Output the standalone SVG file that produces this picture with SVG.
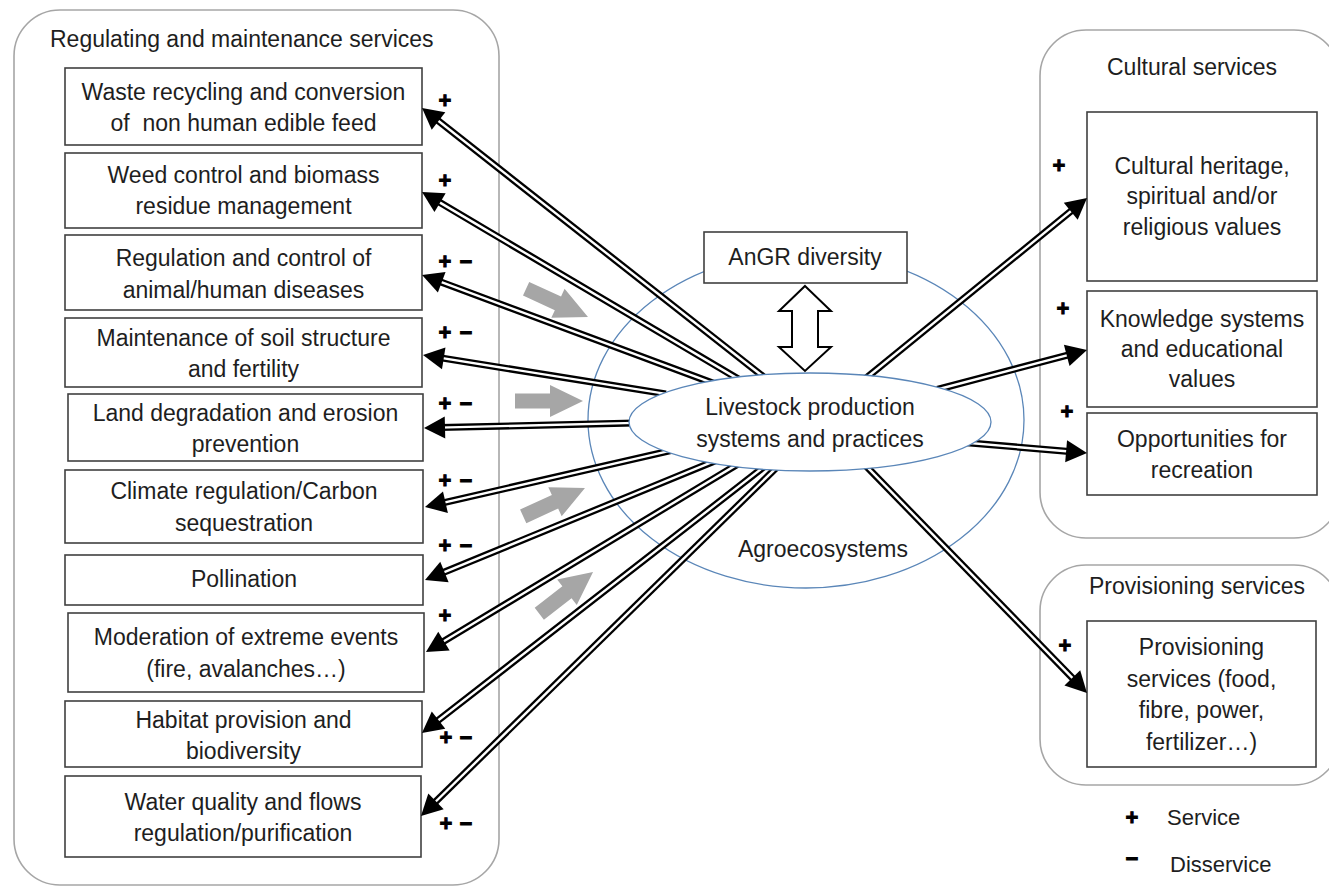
<svg xmlns="http://www.w3.org/2000/svg" width="1329" height="888" viewBox="0 0 1329 888">
<style>
.cont{fill:none;stroke:#a6a6a6;stroke-width:1.6}
.box{fill:#fff;stroke:#404040;stroke-width:1.6}
.t{font-family:"Liberation Sans",Arial,sans-serif;font-size:23px;fill:#1e1e1e;text-anchor:middle}
.tl{font-family:"Liberation Sans",Arial,sans-serif;font-size:23px;fill:#1e1e1e}
.pm{font-family:"Liberation Sans",Arial,sans-serif;font-size:22px;font-weight:bold;fill:#000;stroke:#000;stroke-width:0.9;text-anchor:middle}
.ol{fill:none;stroke:#000;stroke-width:7}
.il{fill:none;stroke:#fff;stroke-width:2.4;marker-end:url(#ah)}
.ell{stroke:#5a86b8;stroke-width:1.3}
.grey{fill:#a6a6a6}
</style>
<defs>
<marker id="ah" markerUnits="userSpaceOnUse" markerWidth="40" markerHeight="40" viewBox="-20 -20 40 40" refX="0" refY="0" orient="auto" overflow="visible">
<path d="M-6,-11 L15,0 L-6,11 z" fill="#000"/>
</marker>
<polygon id="garrow" points="0,-7.5 35,-7.5 35,-16 68,0 35,16 35,7.5 0,7.5"/>
</defs>
<rect width="1329" height="888" fill="#fff"/>

<g id="regulating-services">
<rect class="cont" x="14" y="10" width="485" height="875" rx="46" ry="46"/>
<text class="tl" x="50" y="47">Regulating and maintenance services</text>
</g>
<g id="cultural-services">
<rect class="cont" x="1040" y="30" width="300" height="508" rx="46" ry="46"/>
<text class="t" x="1192" y="75">Cultural services</text>
</g>
<g id="provisioning-group">
<rect class="cont" x="1040" y="565" width="300" height="220" rx="46" ry="46"/>
<text class="t" x="1197" y="594">Provisioning services</text>
</g>

<g id="agroecosystems">
<ellipse class="ell" cx="806" cy="420" rx="218" ry="168" fill="none"/>
<text class="t" x="823" y="557">Agroecosystems</text>
</g>

<g id="grey-arrows" class="grey">
<use href="#garrow" transform="translate(526.1,288.8) rotate(24.5)"/>
<use href="#garrow" transform="translate(515,401)"/>
<use href="#garrow" transform="translate(523.2,516.4) rotate(-24.7)"/>
<use href="#garrow" transform="translate(539.3,613.7) rotate(-37.8)"/>
</g>

<g id="n1"><rect class="box" x="65" y="68" width="357" height="77"/>
<text class="t" x="243.5" y="100">Waste recycling and conversion</text>
<text class="t" x="243.5" y="131" xml:space="preserve">of  non human edible feed</text></g>
<g id="n2"><rect class="box" x="65" y="153" width="357" height="75"/>
<text class="t" x="243.5" y="183">Weed control and biomass</text>
<text class="t" x="243.5" y="214">residue management</text></g>
<g id="n3"><rect class="box" x="65" y="235" width="357" height="75"/>
<text class="t" x="243.5" y="266">Regulation and control of</text>
<text class="t" x="243.5" y="298">animal/human diseases</text></g>
<g id="n4"><rect class="box" x="65" y="318" width="357" height="69"/>
<text class="t" x="243.5" y="346">Maintenance of soil structure</text>
<text class="t" x="243.5" y="377">and fertility</text></g>
<g id="n5"><rect class="box" x="68" y="394" width="355" height="67"/>
<text class="t" x="245.5" y="421">Land degradation and erosion</text>
<text class="t" x="245.5" y="452">prevention</text></g>
<g id="n6"><rect class="box" x="65" y="470" width="358" height="73"/>
<text class="t" x="244" y="499">Climate regulation/Carbon</text>
<text class="t" x="244" y="531">sequestration</text></g>
<g id="n7"><rect class="box" x="65" y="555" width="358" height="50"/>
<text class="t" x="244" y="587">Pollination</text></g>
<g id="n8"><rect class="box" x="68" y="613" width="356" height="79"/>
<text class="t" x="246" y="645">Moderation of extreme events</text>
<text class="t" x="246" y="677">(fire, avalanches…)</text></g>
<g id="n9"><rect class="box" x="65" y="701" width="357" height="66"/>
<text class="t" x="243.5" y="728">Habitat provision and</text>
<text class="t" x="243.5" y="759">biodiversity</text></g>
<g id="n10"><rect class="box" x="65" y="776" width="356" height="81"/>
<text class="t" x="243" y="810">Water quality and flows</text>
<text class="t" x="243" y="841">regulation/purification</text></g>

<g id="n11"><rect class="box" x="1087" y="112" width="230" height="169"/>
<text class="t" x="1202" y="174">Cultural heritage,</text>
<text class="t" x="1202" y="204">spiritual and/or</text>
<text class="t" x="1202" y="235">religious values</text></g>
<g id="n12"><rect class="box" x="1087" y="291" width="230" height="116"/>
<text class="t" x="1202" y="327">Knowledge systems</text>
<text class="t" x="1202" y="357">and educational</text>
<text class="t" x="1202" y="387">values</text></g>
<g id="n13"><rect class="box" x="1087" y="413" width="230" height="82"/>
<text class="t" x="1202" y="447">Opportunities for</text>
<text class="t" x="1202" y="478">recreation</text></g>
<g id="n14"><rect class="box" x="1087" y="621" width="229" height="146"/>
<text class="t" x="1201.5" y="655">Provisioning</text>
<text class="t" x="1201.5" y="687">services (food,</text>
<text class="t" x="1201.5" y="718">fibre, power,</text>
<text class="t" x="1201.5" y="750">fertilizer…)</text></g>

<g id="connectors">
<path class="ol" d="M764.7,377.7 L433.8,117.3"/><path class="il" d="M764.7,377.7 L433.8,117.3"/>
<path class="ol" d="M740.2,380.1 L434.9,199.6"/><path class="il" d="M740.2,380.1 L434.9,199.6"/>
<path class="ol" d="M715.6,384.1 L436.1,280.2"/><path class="il" d="M715.6,384.1 L436.1,280.2"/>
<path class="ol" d="M665.9,393.9 L437.8,357.4"/><path class="il" d="M665.9,393.9 L437.8,357.4"/>
<path class="ol" d="M635,422.9 L439,427.6"/><path class="il" d="M635,422.9 L439,427.6"/>
<path class="ol" d="M670.8,450.7 L439.6,503.6"/><path class="il" d="M670.8,450.7 L439.6,503.6"/>
<path class="ol" d="M715.5,460.7 L438.9,574.3"/><path class="il" d="M715.5,460.7 L438.9,574.3"/>
<path class="ol" d="M738.1,463.9 L438.8,644.3"/><path class="il" d="M738.1,463.9 L438.8,644.3"/>
<path class="ol" d="M764.7,466.3 L433.8,723.8"/><path class="il" d="M764.7,466.3 L433.8,723.8"/>
<path class="ol" d="M777.3,466.8 L431.7,805.5"/><path class="il" d="M777.3,466.8 L431.7,805.5"/>
<path class="ol" d="M865.3,378.8 L1075.4,207.5"/><path class="il" d="M865.3,378.8 L1075.4,207.5"/>
<path class="ol" d="M937.2,389.5 L1072.5,353.8"/><path class="il" d="M937.2,389.5 L1072.5,353.8"/>
<path class="ol" d="M964,442.5 L1072.1,451.7"/><path class="il" d="M964,442.5 L1072.1,451.7"/>
<path class="ol" d="M865.8,465.7 L1076.5,682.2"/><path class="il" d="M865.8,465.7 L1076.5,682.2"/>
</g>

<g id="livestock">
<ellipse class="ell" cx="810" cy="422" rx="181" ry="49" fill="#fff"/>
<text class="t" x="810" y="415">Livestock production</text>
<text class="t" x="810" y="447">systems and practices</text>
</g>

<g id="angr">
<rect class="box" x="704" y="232" width="203" height="51"/>
<text class="t" x="805" y="265">AnGR diversity</text>
</g>
<g id="angr-link">
<polygon points="805,286 831,311 818,311 818,347 831,347 805,371 779,347 792,347 792,311 779,311" fill="#fff" stroke="#000" stroke-width="2"/>
</g>

<g id="signs">
<text class="pm" x="445" y="108">+</text>
<text class="pm" x="445" y="188">+</text>
<text class="pm" x="445" y="269">+</text><text class="pm" x="466" y="269">−</text>
<text class="pm" x="445" y="340">+</text><text class="pm" x="466" y="340">−</text>
<text class="pm" x="445" y="411">+</text><text class="pm" x="466" y="411">−</text>
<text class="pm" x="445" y="488">+</text><text class="pm" x="466" y="488">−</text>
<text class="pm" x="445" y="553">+</text><text class="pm" x="466" y="553">−</text>
<text class="pm" x="445" y="623">+</text>
<text class="pm" x="446" y="745">+</text><text class="pm" x="466" y="745">−</text>
<text class="pm" x="446" y="831">+</text><text class="pm" x="466" y="831">−</text>
<text class="pm" x="1059" y="173">+</text>
<text class="pm" x="1063" y="316">+</text>
<text class="pm" x="1067" y="419">+</text>
<text class="pm" x="1065" y="653">+</text>
</g>

<g id="legend">
<text class="pm" x="1132" y="825">+</text>
<text class="tl" x="1167" y="825" style="font-size:22px">Service</text>
<text class="pm" x="1132" y="866">−</text>
<text class="tl" x="1170" y="872" style="font-size:22px">Disservice</text>
</g>
</svg>
